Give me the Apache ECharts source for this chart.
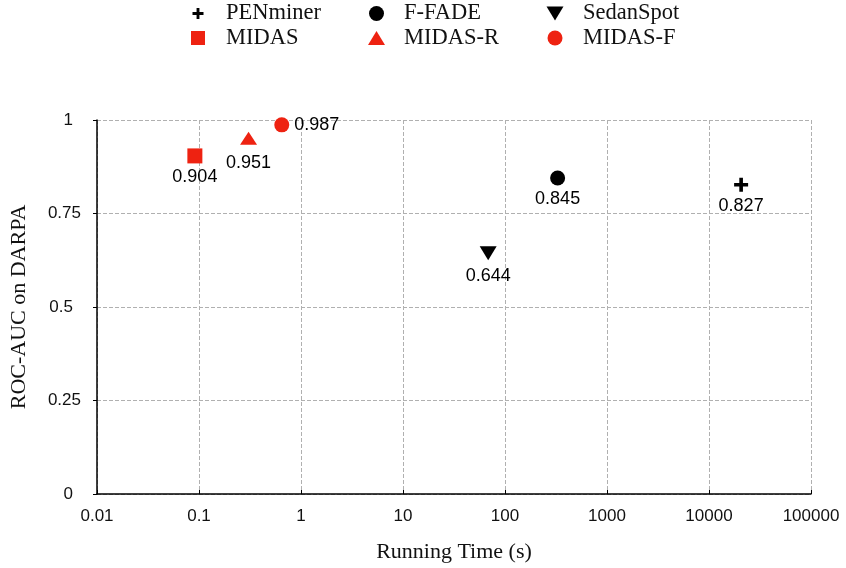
<!DOCTYPE html>
<html>
<head>
<meta charset="utf-8">
<script src="https://cdn.jsdelivr.net/npm/echarts@6/dist/echarts.min.js"></script>
<style>html,body{margin:0;padding:0;background:#fff;}#c{width:846px;height:568px;}</style>
</head>
<body>
<div id="c"></div>
<script>
// Data
var methods = ['PENminer', 'F-FADE', 'SedanSpot', 'MIDAS', 'MIDAS-R', 'MIDAS-F'];
var runTimes = [20650, 328, 68.4, 0.0911, 0.306, 0.648];
var rocAuc = [0.827, 0.845, 0.644, 0.904, 0.951, 0.987];
var xTickLabels = ['0.01', '0.1', '1', '10', '100', '1000', '10000', '100000'];
var yTickLabels = ['0', '0.25', '0.5', '0.75', '1'];

var RED = '#ee2211', BLACK = '#000000';
var PLUS = 'path://M3.7,0H6.3V3.7H10V6.3H6.3V10H3.7V6.3H0V3.7H3.7Z';
var DOWN = 'path://M0,0L10,0L5,8.3Z';
var UP = 'path://M5,0L10,8.3L0,8.3Z';
var SQUARE = 'path://M0,0H10V10H0Z';
var styles = [
  {color: BLACK, symbol: PLUS, size: 14, legendIcon: PLUS, lw: 11, lh: 11, pos: 'bottom', dist: 5},
  {color: BLACK, symbol: 'circle', size: 15, legendIcon: 'circle', lw: 15, lh: 15, pos: 'bottom', dist: 5},
  {color: BLACK, symbol: 'triangle', rotate: 180, size: [17, 14], legendIcon: DOWN, lw: 17, lh: 15, pos: 'bottom', dist: 7},
  {color: RED, symbol: 'rect', size: 15, legendIcon: SQUARE, lw: 14, lh: 14, pos: 'bottom', dist: 5},
  {color: RED, symbol: 'triangle', size: [17, 13], legendIcon: UP, lw: 17, lh: 15, pos: 'bottom', dist: 9},
  {color: RED, symbol: 'circle', size: 15, legendIcon: 'circle', lw: 15, lh: 15, pos: 'right', dist: 5}
];
var legendIconX = [198, 376.5, 555, 198, 376.5, 555];
var legendTextX = [226, 404, 583, 226, 404, 583];
var legendY = [13, 13, 13, 37.5, 37.5, 37.5];

var series = methods.map(function (m, i) {
  var s = styles[i];
  return {
    name: m,
    type: 'scatter',
    symbol: s.symbol,
    symbolRotate: s.rotate || 0,
    symbolSize: s.size,
    itemStyle: {color: s.color, opacity: 1},
    label: {
      show: true,
      position: s.pos,
      distance: s.dist,
      color: '#000',
      fontFamily: 'Liberation Sans, Arial, sans-serif',
      fontSize: 18,
      formatter: function (p) { return p.value[1].toFixed(3); }
    },
    data: [[runTimes[i], rocAuc[i]]]
  };
});

var legends = methods.map(function (m, i) {
  var s = styles[i];
  var left = legendIconX[i] - s.lw / 2;
  var pad = legendTextX[i] - (left + s.lw + 5);
  return {
    data: [{name: m, icon: s.legendIcon}],
    left: left,
    top: legendY[i] - 11,
    padding: 0,
    itemWidth: s.lw,
    itemHeight: s.lh,
    selectedMode: false,
    textStyle: {
      fontFamily: 'Liberation Serif, Times New Roman, serif',
      fontSize: 22.5,
      color: '#111',
      padding: [0, 0, 0, pad]
    }
  };
});

var chart = echarts.init(document.getElementById('c'), null, {renderer: 'canvas'});
chart.setOption({
  animation: false,
  backgroundColor: '#fff',
  legend: legends,
  grid: {left: 96, right: 35, top: 120, bottom: 74},
  xAxis: {
    type: 'log',
    logBase: 10,
    min: 0.01,
    max: 100000,
    name: 'Running Time (s)',
    nameLocation: 'middle',
    nameGap: 47,
    nameTextStyle: {fontFamily: 'Liberation Serif, Times New Roman, serif', fontSize: 22, color: '#111'},
    axisLine: {lineStyle: {color: '#000', width: 1.5}},
    axisTick: {inside: true, length: 4, lineStyle: {color: '#000'}},
    axisLabel: {
      margin: 14,
      fontFamily: 'Liberation Sans, Arial, sans-serif',
      fontSize: 17,
      color: '#111',
      formatter: function (v) {
        var k = Math.round(Math.log10(v)) + 2;
        return xTickLabels[k] !== undefined ? xTickLabels[k] : '';
      }
    },
    splitLine: {show: true, lineStyle: {color: '#b0b0b0', type: [4, 2], width: 1}}
  },
  yAxis: {
    type: 'value',
    min: 0,
    max: 1,
    interval: 0.25,
    name: 'ROC-AUC on DARPA',
    nameLocation: 'middle',
    nameGap: 67,
    nameRotate: 90,
    nameTextStyle: {fontFamily: 'Liberation Serif, Times New Roman, serif', fontSize: 22, color: '#111'},
    axisLine: {show: true, lineStyle: {color: '#000', width: 1.5}},
    axisTick: {show: true, length: 4, lineStyle: {color: '#000'}},
    axisLabel: {
      margin: 16,
      fontFamily: 'Liberation Sans, Arial, sans-serif',
      fontSize: 17,
      color: '#111',
      formatter: function (v) {
        var t = yTickLabels[Math.round(v / 0.25)];
        return t.length >= 4 ? t : '{s|' + t + '}';
      },
      rich: {s: {fontFamily: 'Liberation Sans, Arial, sans-serif', fontSize: 17, color: '#111', padding: [0, 8, 0, 0]}}
    },
    splitLine: {show: true, lineStyle: {color: '#b0b0b0', type: [4, 2], width: 1}}
  },
  series: series
});
</script>
</body>
</html>
